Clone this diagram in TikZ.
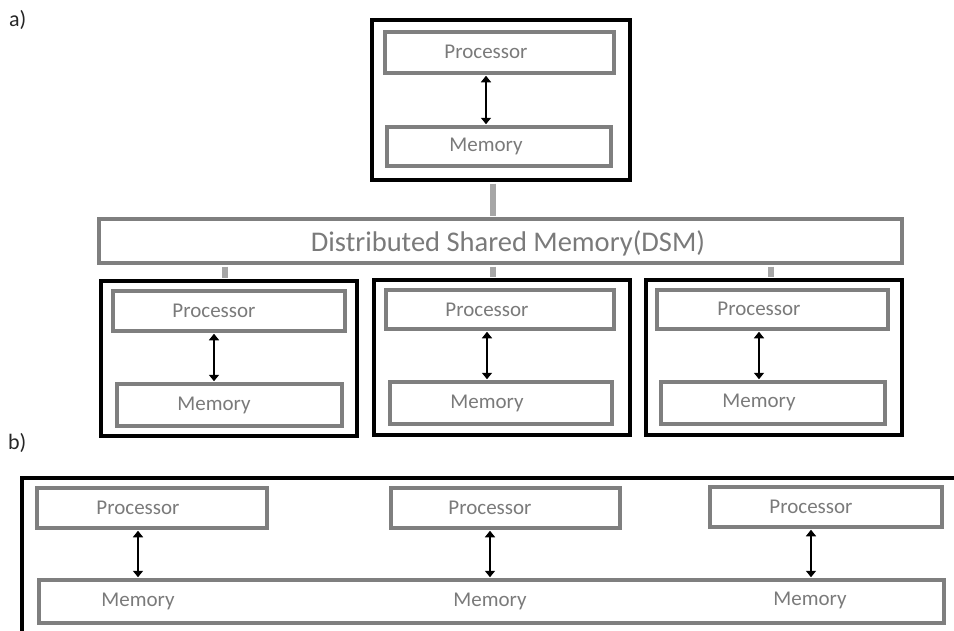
\documentclass[tikz,border=0pt]{standalone}
\usepackage{fontspec}
\setmainfont{Carlito}
\usetikzlibrary{arrows.meta,fit}

\definecolor{boxgray}{HTML}{7F7F7F}
\definecolor{txtgray}{HTML}{7A7A7A}
\definecolor{linkgray}{HTML}{A6A6A6}

\tikzset{
  unit/.style={draw=black, line width=3.5pt, inner sep=0pt, fill=none},
  part/.style={draw=boxgray, line width=3.5pt, inner sep=0pt},
  lbl/.style={text=txtgray, font=\fontsize{21}{25}\selectfont, inner sep=0pt},
  biglbl/.style={text=txtgray, font=\fontsize{28.5}{33}\selectfont, inner sep=0pt},
  tag/.style={text=black!85, font=\fontsize{22}{26}\selectfont, inner sep=0pt, anchor=west},
  biarrow/.style={line width=1.8pt, {Triangle[width=10pt,length=6.5pt]}-{Triangle[width=10pt,length=6.5pt]}, shorten <=1pt, shorten >=1pt},
  link/.style={draw=linkgray, line width=6.5pt},
}

\begin{document}
\begin{tikzpicture}[x=1pt,y=-1pt]
\useasboundingbox (0,0) rectangle (954,630);

% ---------- a) ----------
\node[tag] (taga) at (9,20) {a)};

% top node
\node[unit, fit={(372,20) (630,180)}] (n0) {};
\node[part, fit={(385,32) (614,73)}] (p0) {};
\node[part, fit={(387,127) (611,166)}] (m0) {};
\node[lbl] (p0t) at (486,52) {Processor};
\node[lbl] (m0t) at (486,146) {Memory};
\draw[biarrow] (p0.south -| p0t) -- (m0.north -| p0t);

% shared layer
\node[part, fit={(99,219) (902,263)}] (dsm) {};
\node[biglbl] (dsmt) at (508,243) {Distributed Shared Memory(DSM)};

% lower nodes
\node[unit, fit={(101,281) (357,436)}] (n1) {};
\node[part, fit={(113,291) (345,331)}] (p1) {};
\node[part, fit={(117,384) (342,426)}] (m1) {};
\node[lbl] (p1t) at (214,311) {Processor};
\node[lbl] (m1t) at (214,405) {Memory};
\draw[biarrow] (p1.south -| p1t) -- (m1.north -| p1t);

\node[unit, fit={(374,280) (630,435)}] (n2) {};
\node[part, fit={(386,290) (614,329)}] (p2) {};
\node[part, fit={(390,382) (612,424)}] (m2) {};
\node[lbl] (p2t) at (487,310) {Processor};
\node[lbl] (m2t) at (487,403) {Memory};
\draw[biarrow] (p2.south -| p2t) -- (m2.north -| p2t);

\node[unit, fit={(646,280) (902,435)}] (n3) {};
\node[part, fit={(657,290) (888,329)}] (p3) {};
\node[part, fit={(661,382) (885,424)}] (m3) {};
\node[lbl] (p3t) at (759,309) {Processor};
\node[lbl] (m3t) at (759,402) {Memory};
\draw[biarrow] (p3.south -| p3t) -- (m3.north -| p3t);

% links to the shared layer
\coordinate (x0) at (493,0);
\coordinate (x1) at (225,0);
\coordinate (x2) at (493,0);
\coordinate (x3) at (771,0);
\draw[link] ([yshift=-1.75pt]n0.south -| x0) -- ([yshift=1.75pt]dsm.north -| x0);
\draw[link] ([yshift=-1.75pt]dsm.south -| x1) -- ([yshift=1.75pt]n1.north -| x1);
\draw[link] ([yshift=-1.75pt]dsm.south -| x2) -- ([yshift=1.75pt]n2.north -| x2);
\draw[link] ([yshift=-1.75pt]dsm.south -| x3) -- ([yshift=1.75pt]n3.north -| x3);

% ---------- b) ----------
\node[tag] (tagb) at (8,443) {b)};

\coordinate (fb0) at (22,640);
\coordinate (fb1) at (22,478);
\coordinate (fb2) at (960,478);
\draw[black, line width=3.5pt] (fb0) -- (fb1) -- (fb2);

\node[part, fit={(39,580) (944,623)}] (mb) {};
\node[part, fit={(37,488) (267,528)}] (pb1) {};
\node[part, fit={(391,488) (620,528)}] (pb2) {};
\node[part, fit={(710,487) (942,527)}] (pb3) {};
\node[lbl] (pb1t) at (138,508) {Processor};
\node[lbl] (pb2t) at (490,508) {Processor};
\node[lbl] (pb3t) at (811,507) {Processor};
\node[lbl] (mb1t) at (138,601) {Memory};
\node[lbl] (mb2t) at (490,601) {Memory};
\node[lbl] (mb3t) at (810,600) {Memory};
\draw[biarrow] (pb1.south -| pb1t) -- (mb.north -| pb1t);
\draw[biarrow] (pb2.south -| pb2t) -- (mb.north -| pb2t);
\draw[biarrow] (pb3.south -| pb3t) -- (mb.north -| pb3t);
\end{tikzpicture}
\end{document}
